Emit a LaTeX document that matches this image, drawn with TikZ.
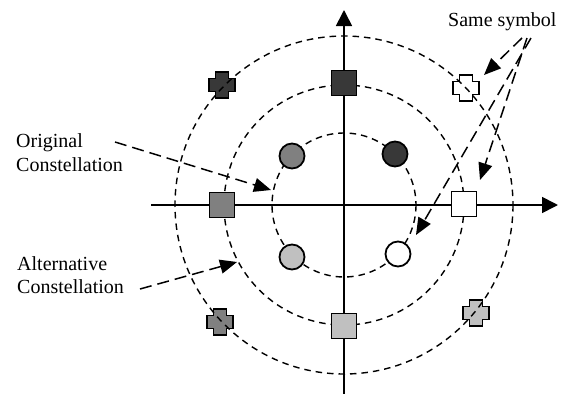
\documentclass[tikz,border=0pt]{standalone}
\usepackage{fontspec}
\setmainfont{Liberation Serif}
\usetikzlibrary{arrows.meta}
\definecolor{darkfill}{HTML}{383838}
\definecolor{midfill}{HTML}{808080}
\definecolor{lightfill}{HTML}{C0C0C0}
\newcommand\plusmark[3]{%
  \draw[fill=#2,line width=1.7pt] (#1) ++(-6.5,-13) -- ++(13,0) -- ++(0,6.5) -- ++(6.5,0) -- ++(0,13) -- ++(-6.5,0) -- ++(0,6.5) -- ++(-13,0) -- ++(0,-6.5) -- ++(-6.5,0) -- ++(0,-13) -- ++(6.5,0) -- cycle;
  \coordinate (#3) at (#1);}
\begin{document}
\begin{tikzpicture}[x=1pt,y=-1pt,
  ring/.style={line width=1.4pt, dash pattern=on 6.5pt off 5pt},
  axis/.style={line width=1.7pt, -{Triangle[length=16pt,width=16pt]}},
  pointer/.style={line width=1.5pt, dash pattern=on 12pt off 6pt, -{Triangle[length=17pt,width=14pt]}},
  sq/.style={draw, line width=1.8pt, minimum size=25pt, inner sep=0pt},
  dot/.style={draw, circle, line width=1.8pt, minimum size=25pt, inner sep=0pt},
  lab/.style={font=\fontsize{20}{24}\selectfont, inner sep=0pt, anchor=base west}
]
\useasboundingbox (0,0) rectangle (566,394);
\coordinate (C) at (344,205);
\coordinate (xs) at (151,205);
\coordinate (xe) at (558,205);
\coordinate (ys) at (344,394);
\coordinate (ye) at (344,10);
% axes
\draw[axis] (xs) -- (xe);
\draw[axis] (ys) -- (ye);
% inner and middle rings
\draw[ring] (C) circle[radius=72];
\draw[ring] (C) circle[radius=120];
% squares
\node[sq, fill=darkfill] (sqT) at (344,83) {};
\node[sq, fill=midfill] (sqL) at (222,205) {};
\node[sq, fill=lightfill] (sqB) at (344,326) {};
\node[sq, fill=white] (sqR) at (464,204) {};
% dots
\node[dot, fill=midfill] (dUL) at (292,156) {};
\node[dot, fill=darkfill] (dUR) at (395,154) {};
\node[dot, fill=lightfill] (dLL) at (292,257) {};
\node[dot, fill=white] (dLR) at (398,254) {};
% crosses
\plusmark{222,85}{darkfill}{cUL}
\plusmark{466,88}{white}{cUR}
\plusmark{220,322}{midfill}{cLL}
\plusmark{476,313}{lightfill}{cLR}
% outer ring
\draw[ring] (C) circle[radius=169];
% labels
\node[lab] (o1) at (16,147) {Original};
\node[lab] (o2) at (16,171) {Constellation};
\node[lab] (a1) at (17,270) {Alternative};
\node[lab] (a2) at (17,293) {Constellation};
\node[lab] (s1) at (448,26) {Same symbol};
% pointers
\coordinate (oS) at (115,142);
\coordinate (oE) at (271,190);
\coordinate (aS) at (140,289);
\coordinate (aE) at (237,262);
\coordinate (sS1) at (522,38);
\coordinate (sS2) at (527,38);
\coordinate (sS3) at (531,38);
\coordinate (sE1) at (484,75);
\coordinate (sE2) at (480,180);
\coordinate (sE3) at (416,235);
\draw[pointer] (oS) -- (oE);
\draw[pointer] (aS) -- (aE);
\draw[pointer] (sS1) -- (sE1);
\draw[pointer] (sS2) -- (sE2);
\draw[pointer] (sS3) -- (sE3);
\end{tikzpicture}
\end{document}
